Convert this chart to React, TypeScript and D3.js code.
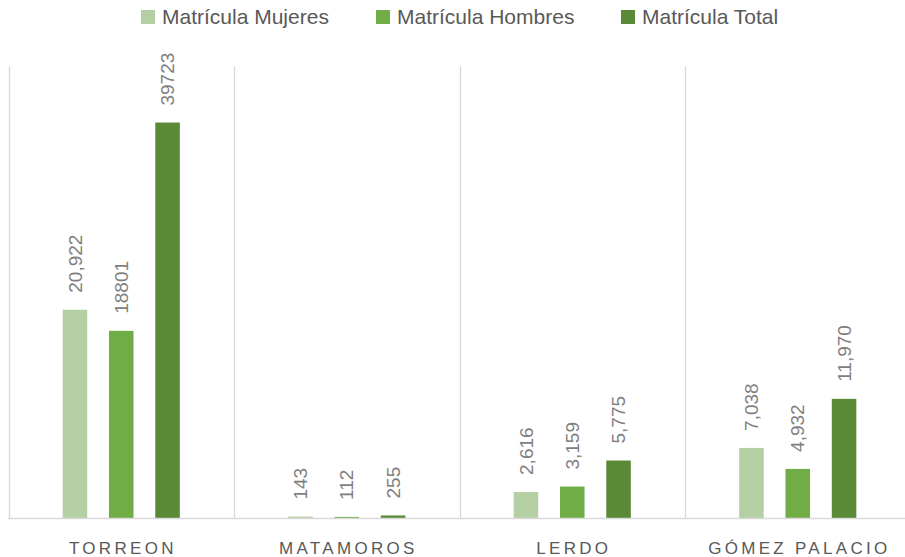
import React, { useEffect, useRef } from 'react';
import * as d3 from 'd3';

const categories = ['TORREON', 'MATAMOROS', 'LERDO', 'GÓMEZ PALACIO'];
const seriesNames = ['Matrícula Mujeres', 'Matrícula Hombres', 'Matrícula Total'];
const mujeres = [20922, 143, 2616, 7038];
const hombres = [18801, 112, 3159, 4932];
const total = [39723, 255, 5775, 11970];
// labels as they are printed on the chart (formatting is not consistent in the source)
const mujeresLabels = ['20,922', '143', '2,616', '7,038'];
const hombresLabels = ['18801', '112', '3,159', '4,932'];
const totalLabels = ['39723', '255', '5,775', '11,970'];
const colors = ['#b4cfa4', '#70ad47', '#5a8a38'];

const App = () => {
  const svgRef = useRef(null);

  useEffect(() => {
    const width = 905;
    const height = 557;
    const svg = d3.select(svgRef.current);
    svg.selectAll('*').remove();
    svg.attr('width', width).attr('height', height);

    const font = '"Liberation Sans", Arial, sans-serif';
    const values = [mujeres, hombres, total];
    const labels = [mujeresLabels, hombresLabels, totalLabels];

    const x0 = d3.scaleBand().domain(categories).range([8.5, 910.5]);
    const x1 = d3.scaleBand()
      .domain(seriesNames)
      .range([0, x0.bandwidth()])
      .paddingInner(0.47)
      .paddingOuter(1.17);
    const y = d3.scaleLinear().domain([0, 45000]).range([518, 70]);

    // category separators
    svg.append('g')
      .selectAll('line')
      .data(d3.range(categories.length + 1))
      .enter()
      .append('line')
      .attr('x1', (i) => Math.round(8.5 + i * x0.step()) + 0.5)
      .attr('x2', (i) => Math.round(8.5 + i * x0.step()) + 0.5)
      .attr('y1', 66)
      .attr('y2', 518)
      .attr('stroke', '#d9d9d9')
      .attr('stroke-width', 1.3);

    // bars + labels
    seriesNames.forEach((s, si) => {
      const g = svg.append('g');
      g.selectAll('rect')
        .data(categories)
        .enter()
        .append('rect')
        .attr('x', (c) => (x0(c) as number) + (x1(s) as number))
        .attr('width', x1.bandwidth())
        .attr('y', (c, i) => y(values[si][i]))
        .attr('height', (c, i) => y(0) - y(values[si][i]))
        .attr('fill', colors[si]);

      g.selectAll('text')
        .data(categories)
        .enter()
        .append('text')
        .attr('transform', (c, i) => {
          const cx = (x0(c) as number) + (x1(s) as number) + x1.bandwidth() / 2;
          const cy = y(values[si][i]) - 17;
          return `translate(${cx},${cy}) rotate(-90)`;
        })
        .attr('dy', '0.35em')
        .attr('font-family', font)
        .attr('font-size', 19)
        .attr('fill', '#7f7f7f')
        .text((c, i) => labels[si][i]);
    });

    // baseline
    svg.append('line')
      .attr('x1', 8).attr('x2', 911)
      .attr('y1', 518.5).attr('y2', 518.5)
      .attr('stroke', '#d9d9d9')
      .attr('stroke-width', 1.3);

    // category axis labels
    svg.append('g')
      .selectAll('text')
      .data(categories)
      .enter()
      .append('text')
      .attr('x', (c) => (x0(c) as number) + x0.bandwidth() / 2 + 1.6)
      .attr('y', 554)
      .attr('text-anchor', 'middle')
      .attr('font-family', font)
      .attr('font-size', 17)
      .attr('letter-spacing', 3.3)
      .attr('fill', '#595959')
      .text((c) => c);

    // legend
    const legendX = [141, 376, 621];
    const legend = svg.append('g')
      .selectAll('g')
      .data(seriesNames)
      .enter()
      .append('g')
      .attr('transform', (d, i) => `translate(${legendX[i]},0)`);
    legend.append('rect')
      .attr('x', 0).attr('y', 10)
      .attr('width', 14).attr('height', 14)
      .attr('fill', (d, i) => colors[i]);
    legend.append('text')
      .attr('x', 21)
      .attr('y', 24)
      .attr('font-family', font)
      .attr('font-size', 21)
      .attr('fill', '#595959')
      .text((d) => d);
  }, []);

  return <svg ref={svgRef} style={{ position: 'absolute', left: 0, top: 0 }}></svg>;
};

export default App;
